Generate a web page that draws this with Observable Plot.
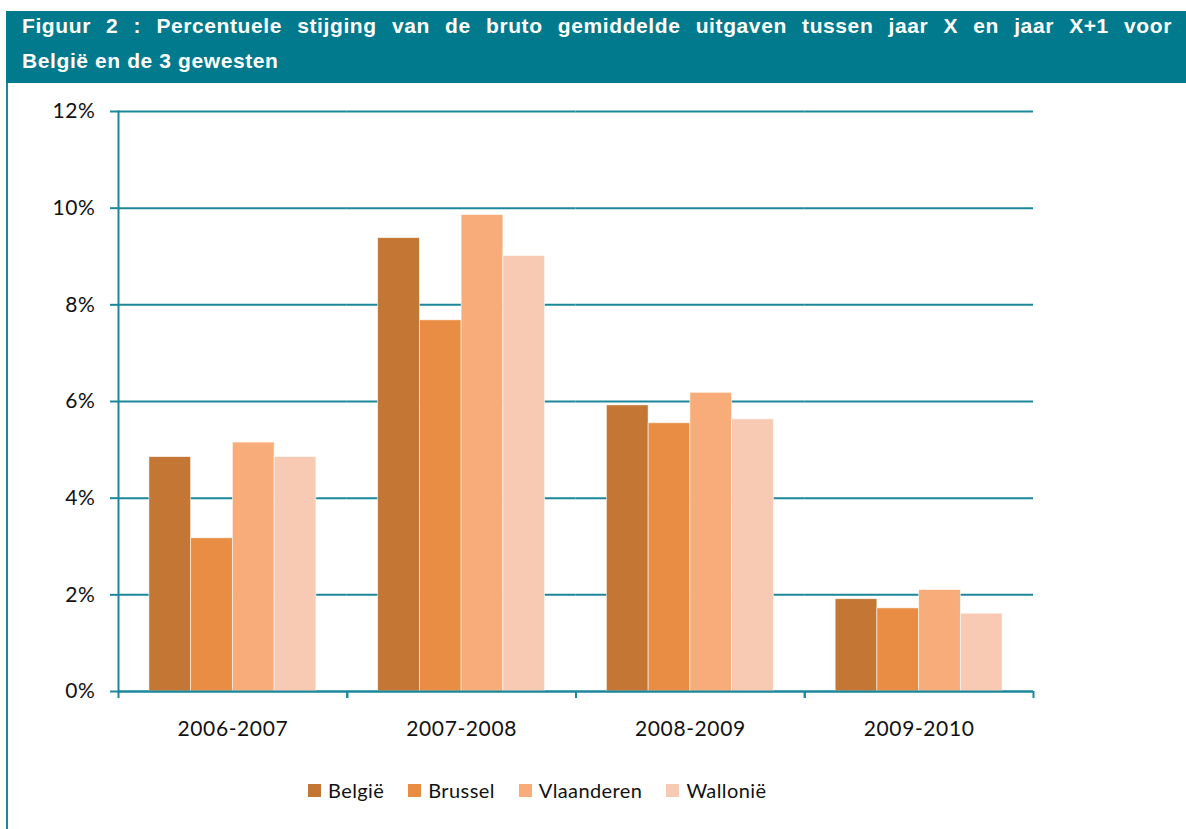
<!DOCTYPE html>
<html>
<head>
<meta charset="utf-8">
<script src="https://cdn.jsdelivr.net/npm/d3@7"></script>
<script src="https://cdn.jsdelivr.net/npm/@observablehq/plot@0.6"></script>
<style>
  html, body { margin: 0; padding: 0; background: #fff; }
  #page { position: relative; width: 1186px; height: 829px; overflow: hidden; }
  #titlebar { position: absolute; left: 6px; top: 11px; width: 1180px; height: 72px; background: #027A8E; }
  #title { position: absolute; left: 22px; top: 8px; width: 1150px; color: #fff;
    font-family: "Liberation Sans", Arial, sans-serif; font-weight: bold; font-size: 21px; line-height: 35px;
    letter-spacing: 0.6px; }
  #title .l1 { text-align: justify; text-align-last: justify; word-spacing: 2px; }
  #border { position: absolute; left: 6px; top: 83px; width: 2px; height: 746px; background: #1A879B; }
  #chart { position: absolute; left: 0; top: 85px; }
  #legend { position: absolute; left: 308px; top: 778px; display: flex; align-items: center;
    font-family: Lato, "Open Sans", sans-serif; font-size: 20px; letter-spacing: 0.4px; color: #111; }
  .item { display: flex; align-items: center; margin-right: 24px; }
  .sw { width: 13px; height: 13px; margin-right: 7px; }
</style>
</head>
<body>
<div id="page">
  <div id="titlebar"></div>
  <div id="title"><div class="l1">Figuur 2 : Percentuele stijging van de bruto gemiddelde uitgaven tussen jaar X en jaar X+1 voor</div><div>België en de 3 gewesten</div></div>
  <div id="border"></div>
  <div id="chart"></div>
  <div id="legend"></div>
</div>
<script>
const categories = ["2006-2007", "2007-2008", "2008-2009", "2009-2010"];
const series = ["België", "Brussel", "Vlaanderen", "Wallonië"];
const colors = ["#C47735", "#E88D43", "#F7AC7A", "#F9CAB3"];
const belgie     = [4.85, 9.38, 5.92, 1.91];
const brussel    = [3.17, 7.68, 5.55, 1.72];
const vlaanderen = [5.15, 9.86, 6.18, 2.10];
const wallonie   = [4.85, 9.01, 5.63, 1.61];
const yTicks = [0, 2, 4, 6, 8, 10, 12];

const seriesValues = [belgie, brussel, vlaanderen, wallonie];
const data = [];
categories.forEach((c, i) => series.forEach((s, j) => data.push({cat: c, series: s, value: seriesValues[j][i]})));

const teal = "#1A879B";
const W = 1186, ML = 118, MR = 153;
const halfBand = (W - ML - MR) / categories.length / 2;

const chart = Plot.plot({
  width: W,
  height: 680,
  marginLeft: ML,
  marginRight: MR,
  marginTop: 26,
  marginBottom: 74,
  style: {fontFamily: "Lato, 'Open Sans', sans-serif", fontSize: "20px", color: "#111", background: "transparent", letterSpacing: "0.6px"},
  fx: {domain: categories, padding: 0, round: false},
  x: {domain: series, paddingInner: 0, paddingOuter: 0.74, round: false, axis: null},
  y: {domain: [0, 12]},
  color: {domain: series, range: colors},
  marks: [
    Plot.gridY(yTicks, {stroke: teal, strokeOpacity: 1, strokeWidth: 2}),
    Plot.barY(data, {fx: "cat", x: "series", y: "value", fill: "series", stroke: "#fff", strokeWidth: 0.8, strokeOpacity: 0.7}),
    Plot.ruleY([0], {stroke: teal, strokeWidth: 2}),
    Plot.frame({anchor: "left", facetAnchor: "left", stroke: teal, strokeWidth: 2}),
    Plot.axisY(yTicks, {tickSize: 8, tickPadding: 15, stroke: teal, strokeWidth: 2, fill: "#111", tickFormat: d => d + "%", fontSize: 21, label: null}),
    Plot.axisFx({anchor: "bottom", tickSize: 7, text: null, stroke: teal, strokeWidth: 2, dx: -halfBand, label: null}),
    Plot.axisFx({anchor: "bottom", tickSize: 7, text: null, stroke: teal, strokeWidth: 2, dx: halfBand, label: null}),
    Plot.axisFx({anchor: "bottom", tickSize: 0, tickPadding: 30, fill: "#111", fontSize: 21, label: null})
  ]
});
document.getElementById("chart").appendChild(chart);

const legend = document.getElementById("legend");
series.forEach((s, i) => {
  const it = document.createElement("div");
  it.className = "item";
  const sw = document.createElement("div");
  sw.className = "sw";
  sw.style.background = colors[i];
  const t = document.createElement("span");
  t.textContent = s;
  it.appendChild(sw); it.appendChild(t);
  legend.appendChild(it);
});
</script>
</body>
</html>
